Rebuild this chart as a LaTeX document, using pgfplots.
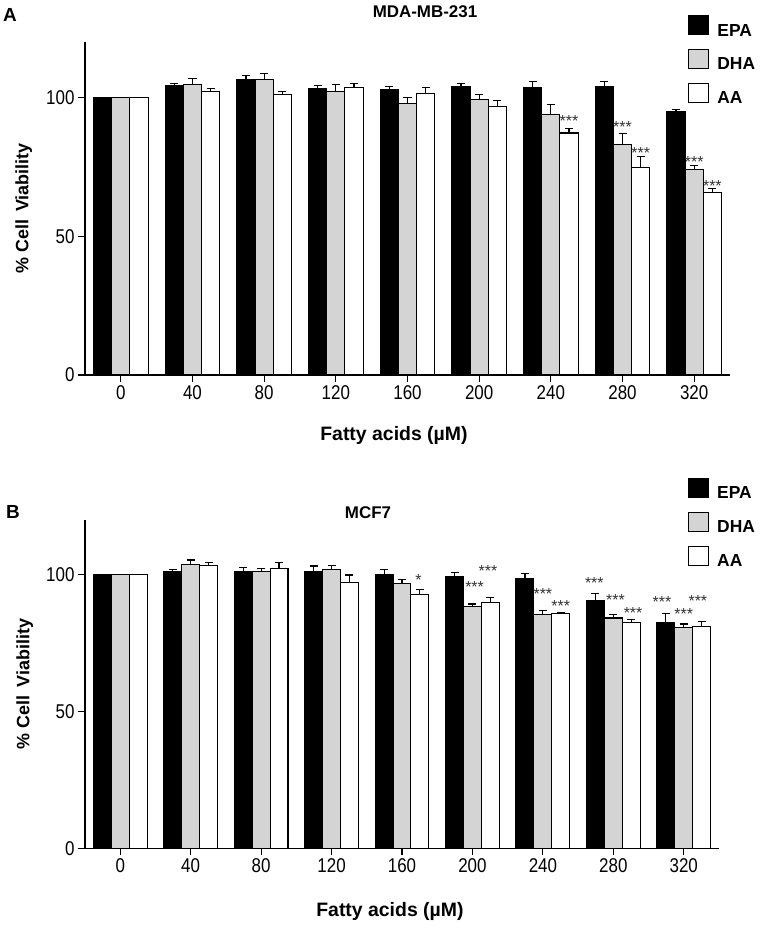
\documentclass[border=0pt]{standalone}
\usepackage{fontspec}
\setmainfont{Liberation Sans}
\newfontfamily\tickfont[FakeStretch=0.85]{Liberation Sans}
\usepackage{pgfplots}
\usepackage{pgfplotstable}
\pgfplotsset{compat=1.18}
\definecolor{dhagray}{RGB}{212,212,212}
\definecolor{stargray}{RGB}{50,50,50}

\pgfplotstableread{
x epa epae dha dhae aa aae
0 100 0 100 0 100 0
1 104.2 1.0 104.7 2.0 102.1 1.1
2 106.4 1.5 106.5 2.3 101.0 1.2
3 103.2 1.0 102.3 2.4 103.5 1.4
4 102.8 1.3 97.8 2.2 101.4 2.2
5 104.0 1.2 99.4 1.7 96.9 2.1
6 103.7 2.0 93.8 3.6 87.2 1.6
7 104.1 1.8 83.2 3.7 74.9 3.9
8 94.8 1.0 74.0 1.4 65.7 1.4
}\tableA

\pgfplotstableread{
x epa epae dha dhae aa aae
0 100 0 100 0 100 0
1 101.1 0.8 103.9 1.5 103.4 1.1
2 101.1 1.6 101.3 1.1 102.4 2.1
3 101.1 2.1 101.9 1.5 97.3 2.6
4 100.0 1.8 96.8 1.4 92.8 1.8
5 99.4 1.3 88.4 0.9 89.9 1.7
6 98.5 2.0 85.5 1.5 85.8 0.5
7 90.6 2.6 84.2 1.2 82.5 1.0
8 82.4 3.4 80.8 1.2 81.2 1.7
}\tableB

\tikzset{sigstar/.style={font=\fontsize{16}{16}\selectfont, text=stargray, inner sep=0pt}}

\pgfplotsset{
  panel/.style={
    scale only axis, clip=false,
    xmin=-0.5, xmax=8.5, ymin=0, ymax=120,
    axis lines=left, axis line style={-, line width=1.1bp},
    xtick={0,...,8}, xticklabels={0,40,80,120,160,200,240,280,320},
    ytick={0,50,100},
    tick align=outside, major tick length=7bp,
    tick style={line width=1.1bp, black},
    /pgf/number format/assume math mode=true,
    tick label style={font=\tickfont\fontsize{20}{20}\selectfont},
    ylabel style={font=\bfseries\fontsize{18}{18}\selectfont},
    xlabel style={font=\bfseries\fontsize{19.5}{19.5}\selectfont},
    ylabel={\% Cell\hspace{0.45em}Viability},
    xlabel={Fatty acids (µM)},
    ybar, bar width=0.254,
    error bars/y dir=plus, error bars/y explicit,
    error bars/error bar style={line width=1.1bp, black},
    error bars/error mark options={rotate=90, mark size=4bp, line width=1.1bp, black},
    every axis plot post/.append style={
      legend image code/.code={\draw[##1, line width=1.1bp, bar shift=0pt] (0bp,-4bp) rectangle (20bp,15bp);}},
    legend style={draw=none, fill=none, anchor=north west, inner sep=0pt, row sep=11.5bp,
       font=\bfseries\fontsize{17.5}{17.5}\selectfont, legend cell align=left,
       nodes={inner sep=0pt}, /tikz/every odd column/.style={column sep=8bp}},
  },
}

\begin{document}
\begin{tikzpicture}
\useasboundingbox (0,0) rectangle (761bp,-928bp);

% Panel A
\begin{axis}[panel, width=645bp, height=333bp, at={(85bp,-375bp)}, anchor=south west,
  ylabel style={at={(axis description cs:-0.095,0.5)}, anchor=center},
  xlabel style={at={(axis description cs:0.479,-0.183)}, anchor=center},
  legend style={at={(0.935,1.081)}}]
\addplot[fill=black, draw=black, line width=1.1bp, bar shift=-0.254] table[x=x, y=epa, y error=epae] {\tableA};
\addlegendentry{EPA}
\addplot[fill=dhagray, draw=black, line width=1.1bp, bar shift=0] table[x=x, y=dha, y error=dhae] {\tableA};
\addlegendentry{DHA}
\addplot[fill=white, draw=black, line width=1.1bp, bar shift=0.254] table[x=x, y=aa, y error=aae] {\tableA};
\addlegendentry{AA}
\node[sigstar] at (axis cs:6.254,91.6) {***};
\node[sigstar] at (axis cs:7,89.5) {***};
\node[sigstar] at (axis cs:7.254,79.9) {***};
\node[sigstar] at (axis cs:8,76.9) {***};
\node[sigstar] at (axis cs:8.254,68.1) {***};
\end{axis}

% Panel B
\begin{axis}[panel, width=634bp, height=328.3bp, at={(85bp,-848.3bp)}, anchor=south west,
  ylabel style={at={(axis description cs:-0.095,0.5)}, anchor=center},
  xlabel style={at={(axis description cs:0.481,-0.191)}, anchor=center},
  legend style={at={(0.951,1.128)}}]
\addplot[fill=black, draw=black, line width=1.1bp, bar shift=-0.254] table[x=x, y=epa, y error=epae] {\tableB};
\addlegendentry{EPA}
\addplot[fill=dhagray, draw=black, line width=1.1bp, bar shift=0] table[x=x, y=dha, y error=dhae] {\tableB};
\addlegendentry{DHA}
\addplot[fill=white, draw=black, line width=1.1bp, bar shift=0.254] table[x=x, y=aa, y error=aae] {\tableB};
\addlegendentry{AA}
\node[sigstar] at (axis cs:4.235,98) {*};
\node[sigstar] at (axis cs:5.03,95.5) {***};
\node[sigstar] at (axis cs:5.22,101.3) {***};
\node[sigstar] at (axis cs:6,92.8) {***};
\node[sigstar] at (axis cs:6.254,88.7) {***};
\node[sigstar] at (axis cs:6.73,96.8) {***};
\node[sigstar] at (axis cs:7.03,90.6) {***};
\node[sigstar] at (axis cs:7.28,86.1) {***};
\node[sigstar] at (axis cs:7.69,90.1) {***};
\node[sigstar] at (axis cs:8,85.6) {***};
\node[sigstar] at (axis cs:8.2,90.5) {***};
\end{axis}

\node[font=\bfseries\fontsize{17}{17}\selectfont] at (425bp,-12bp) {MDA-MB-231};
\node[font=\bfseries\fontsize{17}{17}\selectfont] at (368bp,-513bp) {MCF7};
\node[font=\bfseries\fontsize{19}{19}\selectfont] at (10bp,-15bp) {A};
\node[font=\bfseries\fontsize{19}{19}\selectfont] at (13bp,-512bp) {B};
\end{tikzpicture}
\end{document}
